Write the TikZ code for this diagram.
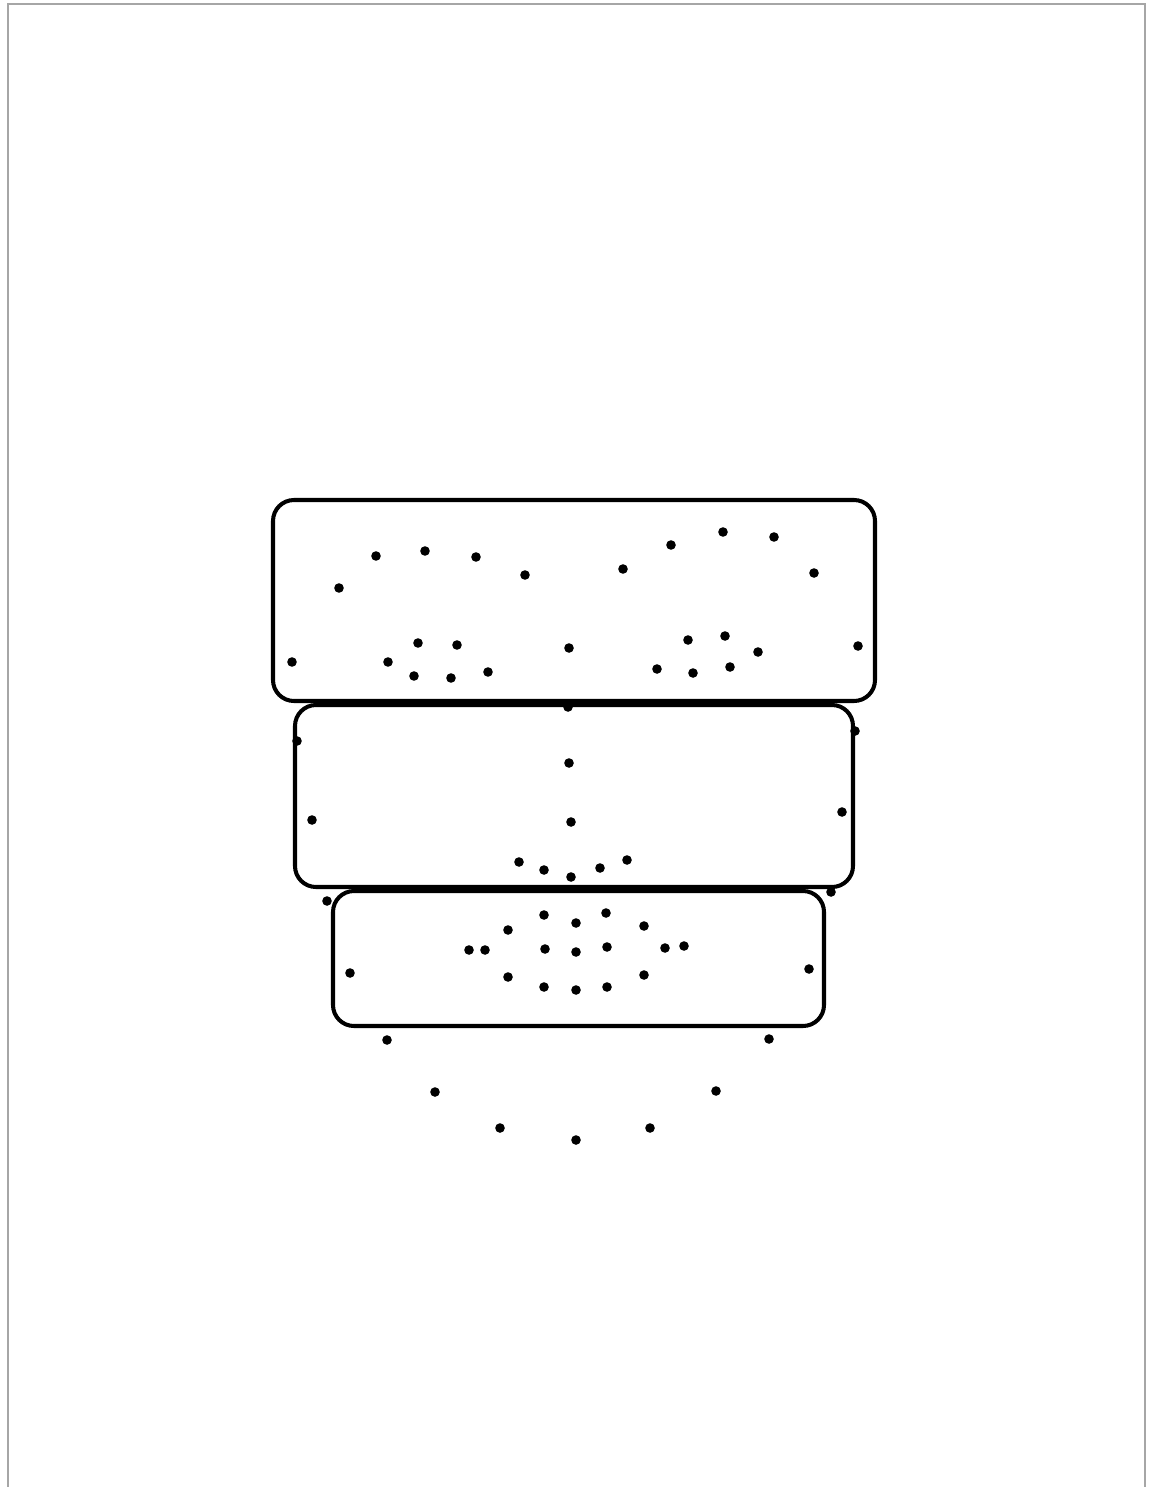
\documentclass[tikz,border=0pt]{standalone}
\usepackage{tikz}
\usetikzlibrary{positioning,calc}

\tikzset{
  band/.style={line width=2.3pt, rounded corners=0.42cm},
  landmark/.style={fill=black},
  sheet/.style={draw=gray!70, line width=0.9pt}
}

\begin{document}
\begin{tikzpicture}[x=0.02cm, y=-0.02cm]
  % page is 1152 x 1487 px, y grows downwards
  \def\dotr{4.8} % dot radius
  \useasboundingbox (0,0) rectangle (1152,1487);
  \draw[sheet] (8,1487) -- (8,4) -- (1145,4) -- (1145,1487);
  % three stacked bands
  \draw[band] (273,500) rectangle (875,701);
  \draw[band] (295,705) rectangle (853,887);
  \draw[band] (333,891) rectangle (824,1026);
  % brows and eyes
  \foreach \x/\y in {376/556, 425/551, 476/557, 525/575, 339/588,
                     623/569, 671/545, 723/532, 774/537, 814/573,
                     292/662, 388/662, 418/643, 457/645, 414/676, 451/678, 488/672, 569/648,
                     657/669, 688/640, 725/636, 758/652, 693/673, 730/667, 858/646}
    \fill[landmark] (\x,\y) circle (\dotr);
  % nose and cheeks
  \foreach \x/\y in {568/707, 297/741, 855/731, 569/763, 312/820, 842/812, 571/822,
                     519/862, 544/870, 571/877, 600/868, 627/860, 327/901, 831/892}
    \fill[landmark] (\x,\y) circle (\dotr);
  % mouth
  \foreach \x/\y in {544/915, 576/923, 606/913, 508/930, 644/926,
                     469/950, 485/950, 545/949, 576/952, 607/947, 665/948, 684/946,
                     350/973, 809/969, 508/977, 644/975, 544/987, 576/990, 607/987}
    \fill[landmark] (\x,\y) circle (\dotr);
  % jaw
  \foreach \x/\y in {387/1040, 769/1039, 435/1092, 716/1091, 500/1128, 576/1140, 650/1128}
    \fill[landmark] (\x,\y) circle (\dotr);
\end{tikzpicture}
\end{document}
